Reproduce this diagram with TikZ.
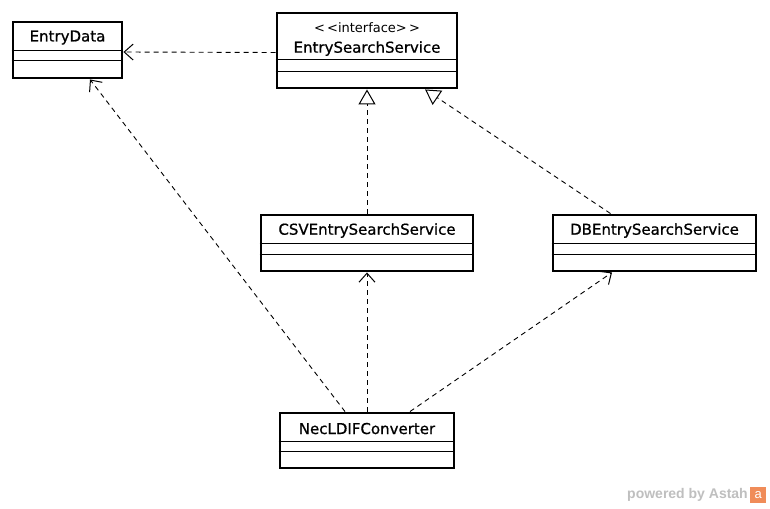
\documentclass[tikz,border=0pt]{standalone}
\usepackage{fontspec}
\setmainfont{DejaVu Sans}[BoldFont = {DejaVu Sans}, BoldFeatures = {FakeBold = 0.8}]
\newfontfamily\wmfont{Liberation Sans}
\usetikzlibrary{arrows.meta}
\usetikzlibrary{calc}
\usetikzlibrary{positioning}
\tikzset{classbox/.style = {draw, line width = 2.9, fill = white, inner sep = 0}}
\tikzset{classname/.style = {inner sep = 0, font = \fontsize{15}{17}\selectfont\bfseries}}
\tikzset{dep/.style = {dash pattern = on 5 off 4, line width = 0.9, -{Straight Barb[length = 9, width = 16, line width = 1]}}}
\tikzset{real/.style = {dash pattern = on 5 off 4, line width = 0.9, -{Triangle[open, length = 15, width = 17, line width = 1, fill = white]}}}
\definecolor{wmgray}{rgb}{0.75, 0.75, 0.75}
\definecolor{astah}{rgb}{0.94, 0.55, 0.35}

\begin{document}
\begin{tikzpicture}[x = 1pt, y = -1pt]
    \useasboundingbox [fill = white] (0, 0) rectangle (770, 508);

    % classes
    \node [classbox, minimum width = 109, minimum height = 56] (ed) at (67.5, 50) {};
    \node [classname] (ed-name) at ($(ed.north) + (0, 17)$) {EntryData};
    \draw ($(ed.north west) + (0, 30)$) -- ($(ed.north east) + (0, 30)$);
    \draw ($(ed.north west) + (0, 40)$) -- ($(ed.north east) + (0, 40)$);

    \node [classbox, minimum width = 180, minimum height = 75] (ess) at (367, 50.5) {};
    \node [inner sep = 0, font = \fontsize{13}{15}\selectfont] (ess-st) at ($(ess.north) + (0, 16)$) {{<}\,{<}interface{>}\,{>}};
    \node [classname] (ess-name) at ($(ess.north) + (0, 37)$) {EntrySearchService};
    \draw ($(ess.north west) + (0, 48)$) -- ($(ess.north east) + (0, 48)$);
    \draw ($(ess.north west) + (0, 60)$) -- ($(ess.north east) + (0, 60)$);

    \node [classbox, minimum width = 212, minimum height = 56] (csv) at (367, 243) {};
    \node [classname] (csv-name) at ($(csv.north) + (0, 17)$) {CSVEntrySearchService};
    \draw ($(csv.north west) + (0, 30)$) -- ($(csv.north east) + (0, 30)$);
    \draw ($(csv.north west) + (0, 41)$) -- ($(csv.north east) + (0, 41)$);

    \node [classbox, minimum width = 203, minimum height = 56] (db) at (654.5, 243) {};
    \node [classname] (db-name) at ($(db.north) + (0, 17)$) {DBEntrySearchService};
    \draw ($(db.north west) + (0, 30)$) -- ($(db.north east) + (0, 30)$);
    \draw ($(db.north west) + (0, 41)$) -- ($(db.north east) + (0, 41)$);

    \node [classbox, minimum width = 174, minimum height = 55] (nec) at (367, 440.5) {};
    \node [classname] (nec-name) at ($(nec.north) + (0, 17)$) {NecLDIFConverter};
    \draw ($(nec.north west) + (0, 30)$) -- ($(nec.north east) + (0, 30)$);
    \draw ($(nec.north west) + (0, 40)$) -- ($(nec.north east) + (0, 40)$);

    % relations
    \draw [dep] ([yshift = -2]ess.west) -- ([yshift = -2]ed.east);
    \draw [real] (csv.north) -- (ess.south);
    \draw [real] ([xshift = -44]db.north) -- ([xshift = 58]ess.south);
    \draw [dep] ([xshift = -22]nec.north) -- ([xshift = 22.5]ed.south);
    \draw [dep] (nec.north) -- (csv.south);
    \draw [dep] ([xshift = 43]nec.north) -- ([xshift = -42.5]db.south);

    % watermark
    \node [inner sep = 0, text = wmgray, font = \fontsize{14}{16}\selectfont\wmfont\bfseries, anchor = east] (wm) at (748, 495) {powered by Astah};
    \node [fill = astah, text = white, inner sep = 0, minimum size = 16, font = \fontsize{13}{13}\selectfont\wmfont, right = 2 of wm] (logo) {a};
\end{tikzpicture}
\end{document}
